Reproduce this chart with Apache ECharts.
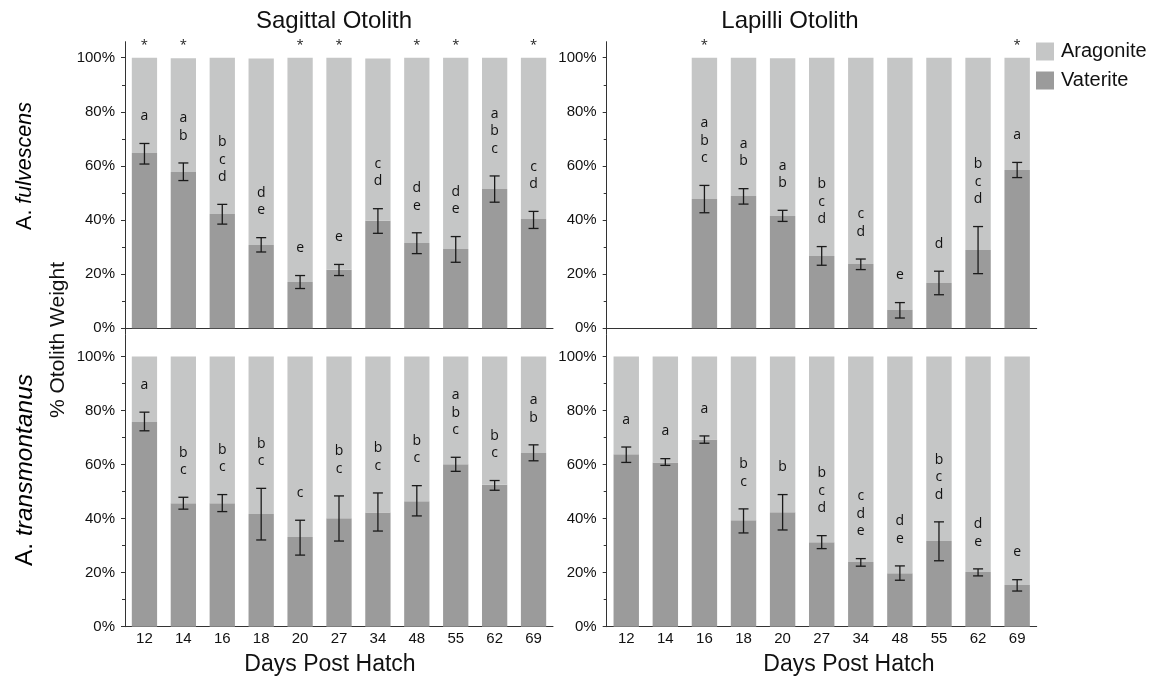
<!DOCTYPE html>
<html><head><meta charset="utf-8">
<script src="https://cdn.jsdelivr.net/npm/echarts@6/dist/echarts.min.js"></script>
<style>html,body{margin:0;padding:0;background:#fff}#c{width:1162px;height:678px}</style>
</head><body><div id="c"></div>
<script>
// ---------- DATA ----------
const days = ['12','14','16','18','20','27','34','48','55','62','69'];
const yTicks = [0, 20, 40, 60, 80, 100];

// Sagittal otolith, A. fulvescens
const sagFulVat  = [64.8, 57.8, 42.2, 30.8, 17.1, 21.6, 39.7, 31.5, 29.3, 51.5, 40.4];
const sagFulArag = [35.2, 42.0, 57.8, 68.9, 82.9, 78.4, 60.0, 68.5, 70.7, 48.5, 59.6];
const sagFulHi   = [68.3, 61.1, 45.8, 33.5, 19.5, 23.6, 44.2, 35.3, 33.9, 56.3, 43.2];
const sagFulLo   = [60.7, 54.6, 38.5, 28.2, 14.7, 19.5, 35.1, 27.6, 24.4, 46.6, 36.9];
const sagFulLetters = ['a','ab','bcd','de','e','e','cd','de','de','abc','cd'];
const sagFulStars   = [1,1,0,0,1,1,0,1,1,0,1];

// Lapilli otolith, A. fulvescens
const lapFulVat  = [null, null, 47.8, 48.9, 41.5, 26.7, 23.8, 6.8, 16.7, 28.9, 58.5];
const lapFulArag = [null, null, 52.2, 51.1, 58.3, 73.3, 76.2, 93.2, 83.3, 71.1, 41.5];
const lapFulHi   = [null, null, 52.8, 51.6, 43.6, 30.2, 25.6, 9.5, 21.1, 37.6, 61.3];
const lapFulLo   = [null, null, 42.7, 45.9, 39.5, 23.3, 21.7, 3.8, 12.4, 20.2, 55.7];
const lapFulLetters = ['','','abc','ab','ab','bcd','cd','e','d','bcd','a'];
const lapFulStars   = [0,0,1,0,0,0,0,0,0,0,1];

// Sagittal otolith, A. transmontanus
const sagTraVat  = [75.8, 45.7, 45.7, 41.7, 33.2, 40.1, 42.3, 46.4, 60.1, 52.5, 64.3];
const sagTraArag = [24.2, 54.3, 54.3, 58.3, 66.8, 59.9, 57.7, 53.6, 39.9, 47.5, 35.7];
const sagTraHi   = [79.4, 47.9, 48.9, 51.2, 39.4, 48.4, 49.5, 52.2, 62.7, 54.1, 67.3];
const sagTraLo   = [72.5, 43.5, 42.6, 32.1, 26.5, 31.7, 35.4, 41.0, 57.5, 50.5, 61.4];
const sagTraLetters = ['a','bc','bc','bc','c','bc','bc','bc','abc','bc','ab'];
const sagTraStars   = [0,0,0,0,0,0,0,0,0,0,0];

// Lapilli otolith, A. transmontanus
const lapTraVat  = [63.8, 60.8, 69.3, 39.4, 42.4, 31.3, 23.9, 19.8, 31.7, 20.2, 15.4];
const lapTraArag = [36.2, 39.2, 30.7, 60.6, 57.6, 68.7, 76.1, 80.2, 68.3, 79.8, 84.6];
const lapTraHi   = [66.5, 62.2, 70.6, 43.6, 48.9, 33.7, 25.2, 22.5, 38.8, 21.4, 17.4];
const lapTraLo   = [60.8, 59.7, 67.9, 34.7, 35.8, 28.9, 22.4, 17.2, 24.4, 18.8, 13.2];
const lapTraLetters = ['a','a','a','bc','b','bcd','cde','de','bcd','de','e'];
const lapTraStars   = [0,0,0,0,0,0,0,0,0,0,0];

// ---------- CHART ----------
const chart = echarts.init(document.getElementById('c'), null, {renderer: 'canvas'});
const FONT = "'Liberation Sans', Arial, Helvetica, sans-serif";
const LETTER_FONT = "'Open Sans', 'DejaVu Sans', sans-serif";
const C_ARAG = '#c5c6c6';
const C_VAT = '#9b9b9b';
const INK = '#1a1a1a';

const panels = [
  {vat: sagFulVat, arag: sagFulArag, hi: sagFulHi, lo: sagFulLo, letters: sagFulLetters, stars: sagFulStars,
   grid: {left: 125, top: 57.7, width: 428, height: 270.6}, bottom: false},
  {vat: lapFulVat, arag: lapFulArag, hi: lapFulHi, lo: lapFulLo, letters: lapFulLetters, stars: lapFulStars,
   grid: {left: 606.7, top: 57.7, width: 430, height: 270.6}, bottom: false},
  {vat: sagTraVat, arag: sagTraArag, hi: sagTraHi, lo: sagTraLo, letters: sagTraLetters, stars: sagTraStars,
   grid: {left: 125, top: 356.5, width: 428, height: 270.2}, bottom: true},
  {vat: lapTraVat, arag: lapTraArag, hi: lapTraHi, lo: lapTraLo, letters: lapTraLetters, stars: lapTraStars,
   grid: {left: 606.7, top: 356.5, width: 430, height: 270.2}, bottom: true}
];

const grids = [], xAxes = [], yAxes = [], series = [];

panels.forEach((p, i) => {
  grids.push(Object.assign({containLabel: false}, p.grid));
  xAxes.push({
    type: 'category', gridIndex: i, data: days,
    axisLine: {onZero: false, lineStyle: {color: '#333', width: 1}},
    axisTick: {show: false},
    axisLabel: {show: p.bottom, fontFamily: FONT, fontSize: 15, color: '#111', margin: 5}
  });
  yAxes.push({
    type: 'value', gridIndex: i, min: 0, max: 100, interval: 20,
    axisLine: {show: false},
    axisTick: {show: true, length: 4, lineStyle: {color: '#333'}},
    minorTick: {show: true, splitNumber: 2, length: 3, lineStyle: {color: '#333'}},
    splitLine: {show: false},
    axisLabel: {fontFamily: FONT, fontSize: 15, color: '#111', margin: 10,
      formatter: v => yTicks.indexOf(v) >= 0 ? v + '%' : ''}
  });
  series.push({
    name: 'Vaterite', type: 'bar', stack: 's' + i, xAxisIndex: i, yAxisIndex: i,
    data: p.vat, barWidth: '65%', itemStyle: {color: C_VAT}, silent: true
  });
  series.push({
    name: 'Aragonite', type: 'bar', stack: 's' + i, xAxisIndex: i, yAxisIndex: i,
    data: p.arag, barWidth: '65%', itemStyle: {color: C_ARAG}, silent: true
  });
  const errData = days.map((d, k) => [k, p.hi[k], p.lo[k]]);
  series.push({
    type: 'custom', xAxisIndex: i, yAxisIndex: i, data: errData, z: 10, silent: true,
    renderItem: function (params, api) {
      const k = params.dataIndex;
      const hi = p.hi[k], lo = p.lo[k];
      const children = [];
      if (p.stars[k]) {
        const pt = api.coord([k, 100]);
        children.push({type: 'text', style: {text: '*', x: pt[0], y: pt[1] - 12,
          align: 'center', verticalAlign: 'middle', font: '13px ' + LETTER_FONT, fill: INK}});
      }
      if (hi == null || lo == null) return {type: 'group', children};
      const a = api.coord([k, hi]), b = api.coord([k, lo]);
      const cw = 5;
      const ls = {stroke: INK, lineWidth: 1.3};
      children.push({type: 'line', shape: {x1: a[0], y1: a[1], x2: b[0], y2: b[1]}, style: ls});
      children.push({type: 'line', shape: {x1: a[0] - cw, y1: a[1], x2: a[0] + cw, y2: a[1]}, style: ls});
      children.push({type: 'line', shape: {x1: b[0] - cw, y1: b[1], x2: b[0] + cw, y2: b[1]}, style: ls});
      const txt = p.letters[k].split('').join('\n');
      if (txt) {
        children.push({type: 'text', style: {text: txt, x: a[0], y: a[1] - 18.5,
          align: 'center', verticalAlign: 'bottom', fontFamily: LETTER_FONT, fontSize: 14,
          lineHeight: 17.5, fill: '#111'}});
      }
      return {type: 'group', children};
    }
  });
});

// decorative full-height y axis lines (one per column)
[{left: 125, width: 428}, {left: 606.7, width: 430}].forEach((g, j) => {
  const gi = grids.length;
  grids.push({left: g.left, width: g.width, top: 41.7, height: 585});
  xAxes.push({type: 'value', gridIndex: gi, show: false, min: 0, max: 1});
  yAxes.push({type: 'value', gridIndex: gi, min: 0, max: 1,
    axisLine: {show: true, lineStyle: {color: '#333', width: 1}},
    axisTick: {show: false}, axisLabel: {show: false}, splitLine: {show: false}});
});

const txtStyle = (text, size) => ({text, fontFamily: FONT, fontSize: size, fill: '#111',
  align: 'center', verticalAlign: 'middle'});
const rowLabel = (species, size) => ({
  text: '{n|A. }{i|' + species + '}', align: 'center', verticalAlign: 'middle',
  rich: {n: {fontFamily: FONT, fontSize: size, color: '#111'},
         i: {fontFamily: FONT, fontSize: size, fontStyle: 'italic', color: '#111'}}
});

const option = {
  animation: false,
  backgroundColor: '#fff',
  grid: grids, xAxis: xAxes, yAxis: yAxes, series,
  legend: {
    data: ['Aragonite', 'Vaterite'], orient: 'vertical', left: 1031, top: 36.5,
    itemWidth: 18, itemHeight: 18, itemGap: 9, icon: 'rect', selectedMode: false,
    textStyle: {fontFamily: FONT, fontSize: 20, color: '#111', padding: [0, 0, 0, 2]}
  },
  graphic: [
    {type: 'text', x: 334, y: 21, style: txtStyle('Sagittal Otolith', 24)},
    {type: 'text', x: 790, y: 21, style: txtStyle('Lapilli Otolith', 24)},
    {type: 'text', x: 330, y: 665, style: txtStyle('Days Post Hatch', 23)},
    {type: 'text', x: 849, y: 665, style: txtStyle('Days Post Hatch', 23)},
    {type: 'text', x: 58, y: 340, rotation: Math.PI / 2, style: txtStyle('% Otolith Weight', 21)},
    {type: 'text', x: 25, y: 166, rotation: Math.PI / 2, style: rowLabel('fulvescens', 21.5)},
    {type: 'text', x: 25, y: 470, rotation: Math.PI / 2, style: rowLabel('transmontanus', 24.5)}
  ]
};
chart.setOption(option);
</script>
</body></html>
